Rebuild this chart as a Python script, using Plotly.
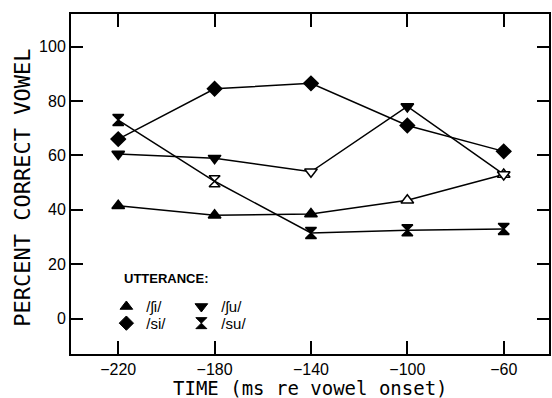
import plotly.graph_objects as go

times = [-220, -180, -140, -100, -60]
sh_i = [41.5, 38, 38.5, 43.5, 53]
si = [66, 84.5, 86.5, 71, 61.5]
sh_u = [60.5, 59, 54, 78, 53]
su = [73, 50.5, 31.5, 32.5, 33]

sh_i_open = [False, False, False, True, True]
si_open = [False, False, False, False, False]
sh_u_open = [False, False, True, False, True]
su_open = [False, True, False, False, False]

names = ["/ʃi/", "/si/", "/ʃu/", "/su/"]
x_ticks = [-220, -180, -140, -100, -60]
x_labels = ["−220", "−180", "−140", "−100", "−60"]
y_ticks = [0, 20, 40, 60, 80, 100]

FONT = "Liberation Sans, DejaVu Sans, Arial, sans-serif"
MONO = "DejaVu Sans Mono, Liberation Mono, monospace"

fig = go.Figure()

series = [
    (sh_i, sh_i_open, "triangle-up", 11, names[0], "legend"),
    (si, si_open, "diamond", 11, names[1], "legend2"),
    (sh_u, sh_u_open, "triangle-down", 11, names[2], "legend"),
    (su, su_open, "hourglass", 11, names[3], "legend2"),
]

for vals, opens, sym, size, name, lg in series:
    fig.add_trace(go.Scatter(
        x=times, y=vals, mode="lines+markers",
        line=dict(color="black", width=1.5),
        marker=dict(symbol=sym, size=size,
                    color=["white" if o else "black" for o in opens],
                    line=dict(color="black", width=1.5)),
        showlegend=False, name=name, cliponaxis=False,
    ))

for vals, opens, sym, size, name, lg in series:
    fig.add_trace(go.Scatter(
        x=[None], y=[None], mode="markers", name=name,
        marker=dict(symbol=sym, size=size, color="black",
                    line=dict(color="black", width=1)),
        showlegend=True, legend=lg,
    ))

leg_common = dict(orientation="h", xanchor="left", yanchor="middle",
                  entrywidth=30, entrywidthmode="pixels", itemwidth=30,
                  font=dict(size=15, family=FONT), bgcolor="rgba(0,0,0,0)",
                  tracegroupgap=0, itemclick=False)

fig.update_layout(
    width=552, height=398,
    margin=dict(l=71, r=3, t=14, b=44),
    paper_bgcolor="white", plot_bgcolor="white",
    font=dict(family=FONT, color="black", size=15),
    legend=dict(x=0.074, y=0.139, **leg_common),
    legend2=dict(x=0.074, y=0.090, **leg_common),
    annotations=[
        dict(text="<b>UTTERANCE:</b>", xref="paper", yref="paper",
             x=0.106, y=0.222, xanchor="left", yanchor="middle",
             showarrow=False, font=dict(size=13, family=FONT)),
        dict(text="TIME (ms re vowel onset)", xref="paper", yref="paper",
             x=0.5, y=-0.1, xanchor="center", yanchor="middle",
             showarrow=False, font=dict(size=19, family=MONO)),
        dict(text="PERCENT CORRECT VOWEL", xref="paper", yref="paper",
             x=-0.102, y=0.49, xanchor="center", yanchor="middle", textangle=-90,
             showarrow=False, font=dict(size=22, family=MONO)),
    ],
)

fig.update_xaxes(
    range=[-239.6, -41.2], tickvals=x_ticks, ticktext=x_labels,
    ticks="inside", ticklen=13, tickwidth=2, tickcolor="black",
    showline=True, linewidth=2, linecolor="black", mirror="ticks",
    showgrid=False, zeroline=False, automargin=False,
    tickfont=dict(size=16, family=FONT),
)
fig.update_yaxes(
    range=[-13, 112], tickvals=y_ticks, ticktext=[str(v) for v in y_ticks],
    ticks="inside", ticklen=12, tickwidth=2, tickcolor="black",
    showline=True, linewidth=2, linecolor="black", mirror="ticks",
    showgrid=False, zeroline=False, automargin=False,
    tickfont=dict(size=16, family=FONT),
)

fig.write_html("out.html", config={"displayModeBar": False},
               post_script="document.body.style.margin='0';")
